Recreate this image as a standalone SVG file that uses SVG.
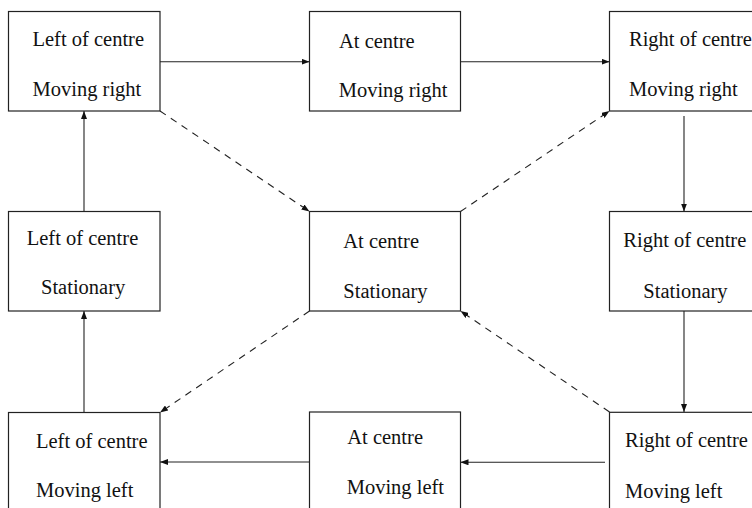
<svg xmlns="http://www.w3.org/2000/svg" width="752" height="508" viewBox="0 0 752 508">
<defs>
<marker id="ah" markerWidth="8" markerHeight="6" refX="8" refY="3" orient="auto" markerUnits="userSpaceOnUse">
<path d="M0,0 L8,3 L0,6 Z" fill="#111"/>
</marker>
<style>
rect{fill:#fff;stroke:#222;stroke-width:1.2}
text{font-family:"Liberation Serif","Times New Roman",serif;font-size:20.5px;fill:#111}
.c line{stroke:#222;stroke-width:1.1;marker-end:url(#ah)}
.c .d{stroke-dasharray:7,6}
</style>
</defs>
<rect x="0" y="0" width="752" height="508" style="stroke:none;fill:#fff"/>
<g class="c" id="connectors">
<line x1="160" y1="61.7" x2="309.5" y2="61.7"/>
<line x1="460.5" y1="61.7" x2="609.5" y2="61.7"/>
<line x1="684" y1="116" x2="684" y2="211.5"/>
<line x1="684" y1="311" x2="684" y2="412"/>
<line x1="605" y1="462.3" x2="460.5" y2="462.3"/>
<line x1="309.5" y1="462" x2="160" y2="462"/>
<line x1="84" y1="412.5" x2="84" y2="311"/>
<line x1="84" y1="211.5" x2="84" y2="111"/>
<line class="d" x1="160" y1="111" x2="309.5" y2="211.5"/>
<line class="d" x1="460.5" y1="211.5" x2="609.5" y2="111"/>
<line class="d" x1="309.5" y1="311" x2="160" y2="412.5"/>
<line class="d" x1="609.5" y1="412" x2="460.5" y2="311"/>
</g>
<g id="n-left-right">
<rect x="8.5" y="11.5" width="151.5" height="99.5"/>
<text x="32.5" y="45.5">Left of centre</text>
<text x="32.5" y="95.5">Moving right</text>
</g>
<g id="n-centre-right">
<rect x="309.5" y="11.5" width="151" height="99.5"/>
<text x="339" y="47.5">At centre</text>
<text x="338.7" y="96.5">Moving right</text>
</g>
<g id="n-rightof-right">
<rect x="609.5" y="11.5" width="151" height="99.5"/>
<text x="629" y="45.5">Right of centre</text>
<text x="629" y="95.5">Moving right</text>
</g>
<g id="n-left-stat">
<rect x="8.5" y="211.5" width="151.5" height="99.5"/>
<text x="26.7" y="245">Left of centre</text>
<text x="41" y="294.3">Stationary</text>
</g>
<g id="n-centre-stat">
<rect x="309.5" y="211.5" width="151" height="99.5"/>
<text x="343.3" y="248">At centre</text>
<text x="343.3" y="297.5">Stationary</text>
</g>
<g id="n-rightof-stat">
<rect x="609.5" y="211.5" width="151" height="99.5"/>
<text x="623.3" y="247.3">Right of centre</text>
<text x="643.3" y="297.5">Stationary</text>
</g>
<g id="n-left-left">
<rect x="8.5" y="412.5" width="151.5" height="110"/>
<text x="36" y="447.7">Left of centre</text>
<text x="36" y="497.3">Moving left</text>
</g>
<g id="n-centre-left">
<rect x="309.5" y="412" width="151" height="110"/>
<text x="347.3" y="444.3">At centre</text>
<text x="346.7" y="494">Moving left</text>
</g>
<g id="n-rightof-left">
<rect x="609.5" y="412.3" width="151" height="110"/>
<text x="625" y="447.3">Right of centre</text>
<text x="625" y="497.7">Moving left</text>
</g>
</svg>
